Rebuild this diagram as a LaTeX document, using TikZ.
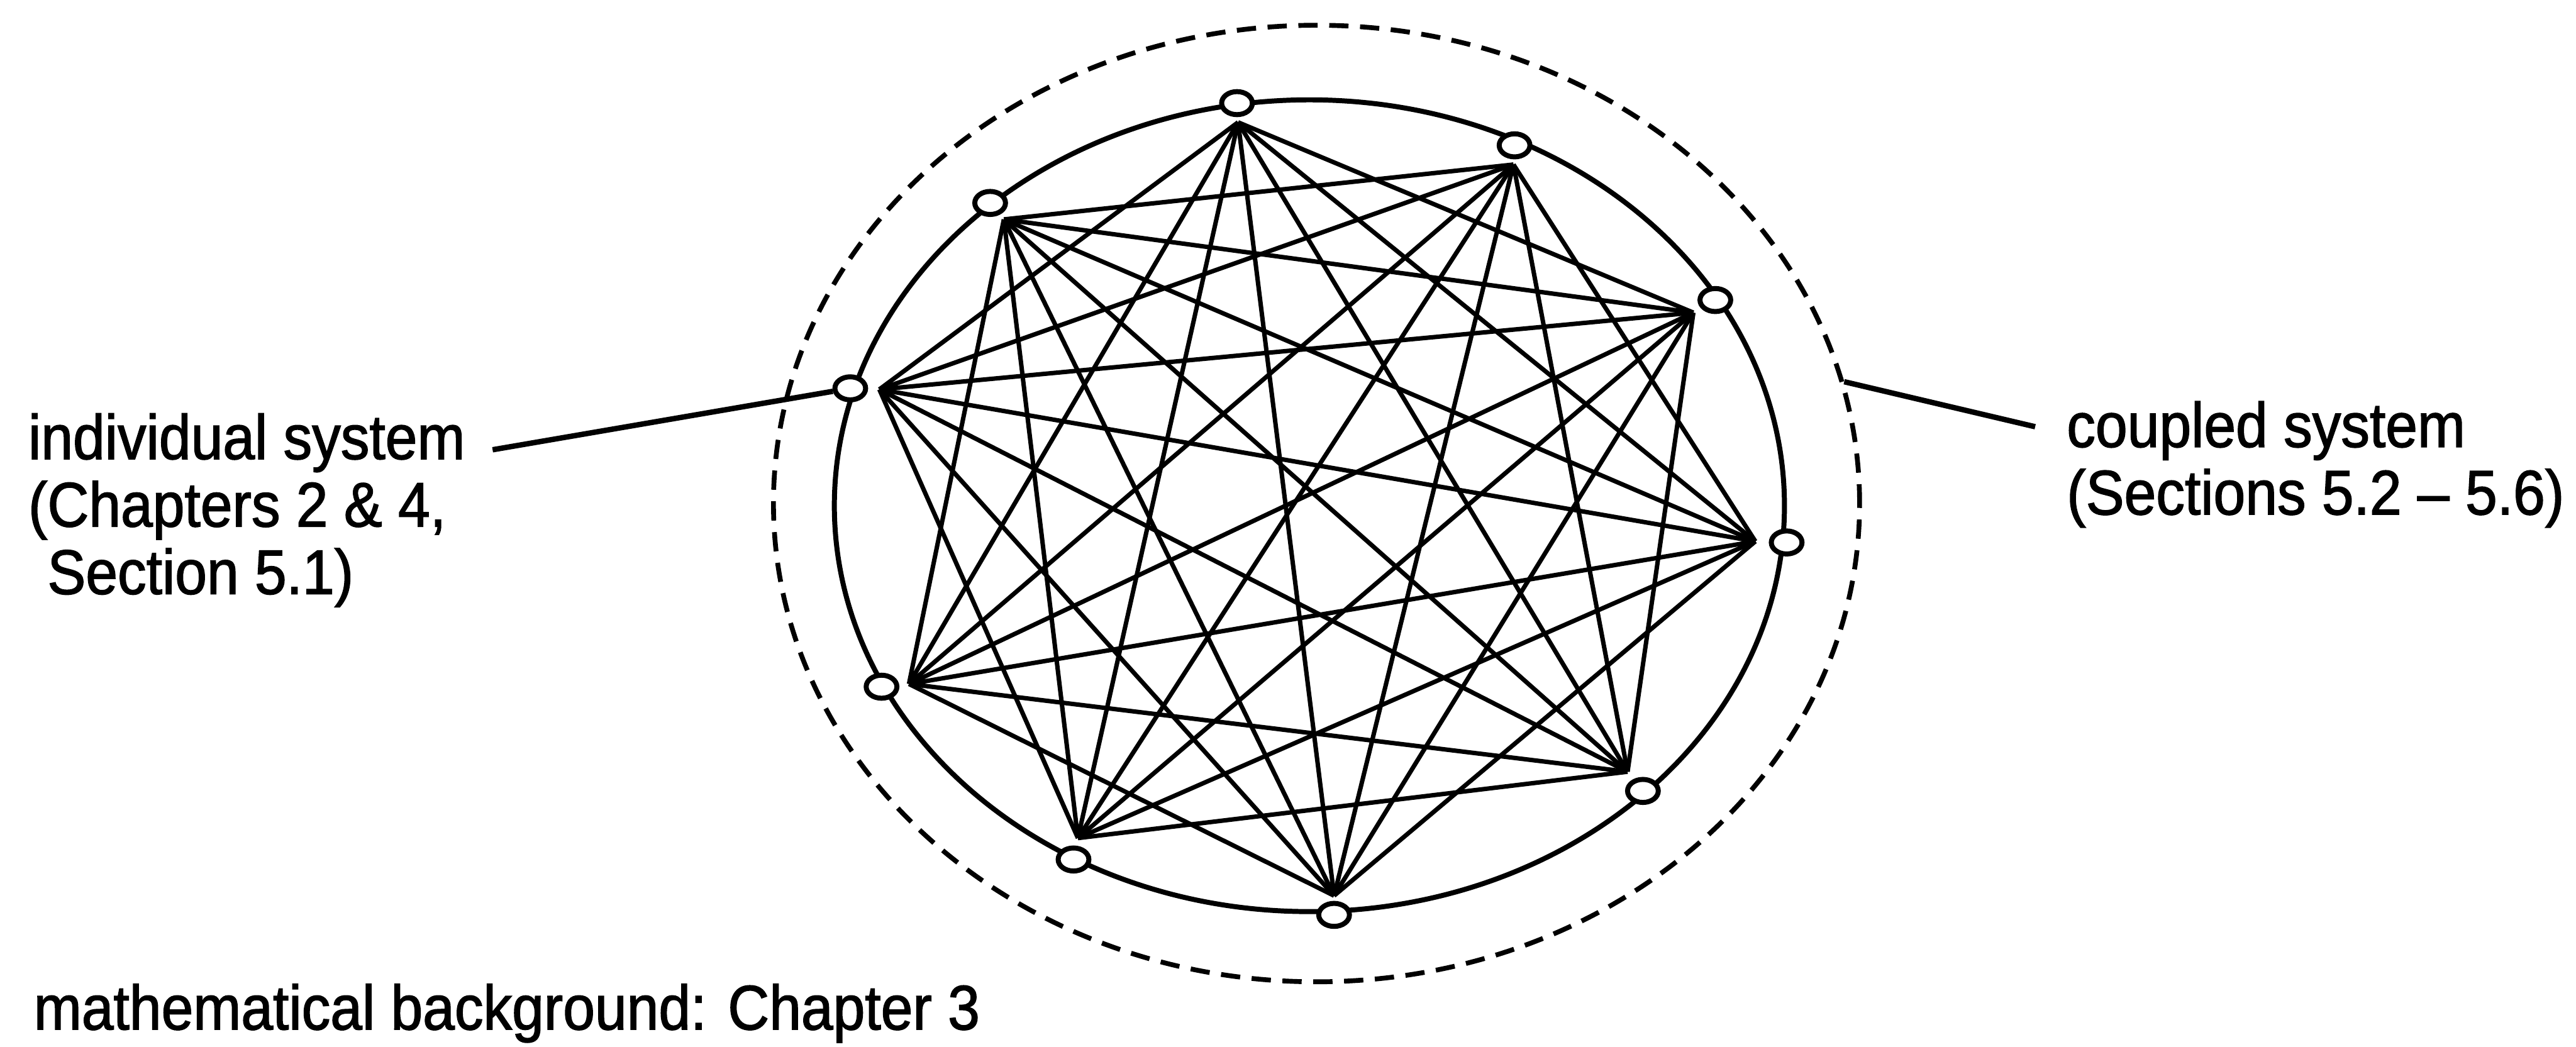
\documentclass[tikz,border=0pt]{standalone}
\usepackage{fontspec}
\setmainfont{Liberation Sans}[FakeStretch=0.91, FakeBold=1.5]
\usetikzlibrary{shapes.geometric}

\begin{document}
\begin{tikzpicture}[
  every node/.style={font=\fontsize{32.7pt}{35pt}\selectfont},
  sysnode/.style={draw, ellipse, fill=white, line width=2.6pt, inner sep=0pt,
                  minimum width=0.56cm, minimum height=0.42cm},
  chord/.style={line width=2.3pt},
  rim/.style={line width=2.6pt},
  hull/.style={draw, ellipse, line width=2.5pt, dash pattern=on 10pt off 6pt,
               inner sep=0pt, minimum width=19.8cm, minimum height=17.44cm},
  leader/.style={line width=2.8pt},
  labeltext/.style={anchor=base west, inner sep=0pt, align=left},
]
\useasboundingbox (0,0) rectangle (46.96,-19.08);

%% Coupled system: dashed hull
\node[hull] (cpl) at (24.0,-9.18) {};

%% Hub points (where the couplings meet, just inside each system)
\foreach \i/\x/\y in {1/22.57/-2.23, 2/27.59/-3.00, 3/30.87/-5.70, 4/32.00/-9.87,
                      5/29.67/-14.07, 6/24.32/-16.33, 7/19.65/-15.28,
                      8/16.57/-12.47, 9/16.03/-7.10, 10/18.30/-4.00}{
  \coordinate (h\i) at (\x,\y);
}

%% Rim through all systems
\draw[rim] (23.87,-9.22) ellipse [x radius=8.66, y radius=7.40];

%% Couplings: every pair that is not neighbouring on the rim
\foreach \i in {1,...,8}{
  \pgfmathtruncatemacro{\jfrom}{\i+2}
  \pgfmathtruncatemacro{\jto}{ifthenelse(\i==1,9,10)}
  \foreach \j in {\jfrom,...,\jto}{
    \draw[chord] (h\i) -- (h\j);
  }
}

%% Individual systems
\foreach \i/\x/\y in {1/22.55/-1.88, 2/27.61/-2.65, 3/31.27/-5.47, 4/32.57/-9.89,
                      5/29.95/-14.42, 6/24.32/-16.68, 7/19.57/-15.67,
                      8/16.07/-12.52, 9/15.50/-7.08, 10/18.05/-3.70}{
  \node[sysnode] (n\i) at (\x,\y) {};
}

%% Labels (base = baseline of the last line)
\node[labeltext] (indlab) at (0.51,-10.83)
  {individual system\\(Chapters 2 \& 4,\\\hphantom{(}Section 5.1)};
\node[labeltext] (cpllab) at (37.67,-9.38)
  {coupled system\\(Sections 5.2 -- 5.6)};
\node[labeltext] (mathlab) at (0.61,-18.77) {mathematical background: Chapter 3};

%% Leaders
\coordinate (indend) at (8.98,-8.20);
\coordinate (cplend) at (37.10,-7.78);
\draw[leader] (indend) -- (n9);
\draw[leader] (cpl.13) -- (cplend);

\end{tikzpicture}
\end{document}
